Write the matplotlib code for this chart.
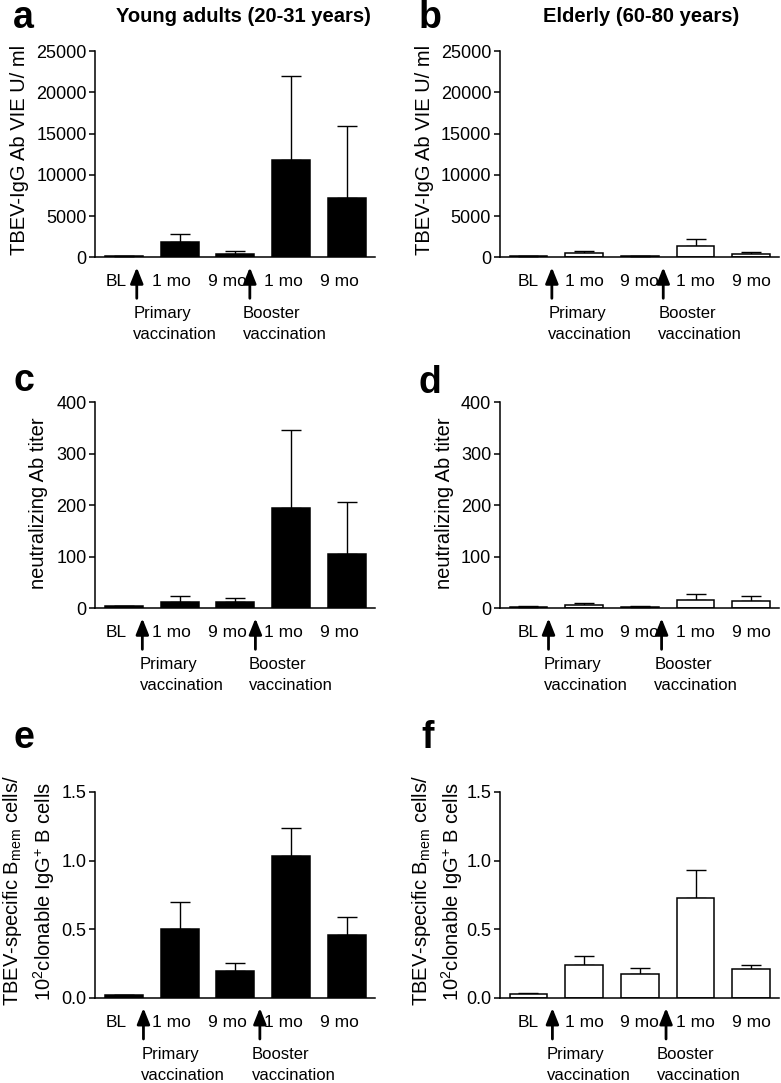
import numpy as np
import matplotlib
matplotlib.use('Agg')
import matplotlib.pyplot as plt
from matplotlib.transforms import blended_transform_factory

plt.rcParams['font.family'] = 'Liberation Sans'
plt.rcParams['mathtext.default'] = 'regular'

# time points (same for every panel)
timepoints = ['BL', '1 mo', '9 mo', '1 mo', '9 mo']

# TBEV-IgG (VIE U/ml), mean and upper error
igg_young = [100, 1800, 400, 11800, 7200]
igg_young_err = [30, 1000, 350, 10200, 8700]
igg_elderly = [100, 550, 100, 1400, 350]
igg_elderly_err = [20, 180, 20, 800, 250]

# neutralizing Ab titer
nt_young = [4, 13, 12, 194, 106]
nt_young_err = [0.5, 11, 8, 153, 100]
nt_elderly = [3, 7, 3, 16, 13.6]
nt_elderly_err = [0.5, 3, 0.5, 11, 11]

# TBEV-specific Bmem cells / 10^2 clonable IgG+ B cells
bmem_young = [0.02, 0.505, 0.195, 1.033, 0.459]
bmem_young_err = [0.005, 0.195, 0.06, 0.207, 0.129]
bmem_elderly = [0.03, 0.238, 0.177, 0.727, 0.211]
bmem_elderly_err = [0.007, 0.071, 0.039, 0.202, 0.032]

igg_label = 'TBEV-IgG Ab VIE U/ ml'
nt_label = 'neutralizing Ab titer'
bmem_label = ['TBEV-specific B$_{mem}$ cells/',
              '10$^{2}$clonable IgG$^{+}$ B cells']

W, H = 781, 1083
fig = plt.figure(figsize=(W / 100, H / 100), dpi=100)

AX_H = 206
AX_W = 279.6
XLIM = (-0.52, 4.5)


def px_rect(left, top, width, height):
    return [left / W, 1 - (top + height) / H, width / W, height / H]


def draw_panel(rect, vals, errs, fc, ymax, yticks, ticklabels,
               arrows, notes, xlab_shift):
    ax = fig.add_axes(px_rect(*rect))
    x = np.arange(len(vals))
    ax.errorbar(x, vals, yerr=[np.zeros(len(vals)), errs], fmt='none',
                ecolor='black', elinewidth=1.0, capsize=7, capthick=1.0,
                zorder=1)
    ax.bar(x, vals, width=0.68, color=fc, edgecolor='black',
           linewidth=1.1, zorder=2)
    ax.set_xlim(*XLIM)
    ax.set_ylim(0, ymax)
    ax.set_yticks(yticks)
    ax.set_yticklabels(ticklabels)
    ax.set_xticks(x + xlab_shift)
    ax.set_xticklabels(timepoints)
    for s in ['top', 'right']:
        ax.spines[s].set_visible(False)
    for s in ['left', 'bottom']:
        ax.spines[s].set_linewidth(1.1)
    ax.tick_params(axis='y', length=4.5, width=1.1, labelsize=13, pad=1.5)
    ax.tick_params(axis='x', length=0, labelsize=12.5, pad=12)

    trans = blended_transform_factory(ax.transData, ax.transAxes)
    for ax_x, tx, txt in zip(arrows, notes,
                             ['Primary\nvaccination', 'Booster\nvaccination']):
        ax.annotate('', xy=(ax_x, -10 / AX_H), xytext=(ax_x, -41 / AX_H),
                    xycoords=trans, textcoords=trans, annotation_clip=False,
                    arrowprops=dict(arrowstyle='-|>,head_length=0.8,head_width=0.32',
                                    color='black', lw=2, shrinkA=0, shrinkB=0,
                                    mutation_scale=12))
        ax.text(tx, -49 / AX_H, txt, transform=trans, ha='left', va='top',
                fontsize=12, linespacing=1.5)
    return ax


LEFT_COL = 95
RIGHT_COL = 499.5
ROWS = [51.3, 402.3, 792]

igg_ticks = [0, 5000, 10000, 15000, 20000, 25000]
nt_ticks = [0, 100, 200, 300, 400]
bmem_ticks = [0, 0.5, 1.0, 1.5]

draw_panel((LEFT_COL, ROWS[0], AX_W, AX_H), igg_young, igg_young_err, 'black',
           25000, igg_ticks, [str(t) for t in igg_ticks],
           [0.23, 2.26], [0.17, 2.13], -0.14)
draw_panel((RIGHT_COL, ROWS[0], AX_W, AX_H), igg_elderly, igg_elderly_err, 'white',
           25000, igg_ticks, [str(t) for t in igg_ticks],
           [0.42, 2.42], [0.355, 2.33], 0.0)
draw_panel((LEFT_COL, ROWS[1], AX_W, AX_H), nt_young, nt_young_err, 'black',
           400, nt_ticks, [str(t) for t in nt_ticks],
           [0.33, 2.36], [0.28, 2.24], -0.14)
draw_panel((RIGHT_COL, ROWS[1], AX_W, AX_H), nt_elderly, nt_elderly_err, 'white',
           400, nt_ticks, [str(t) for t in nt_ticks],
           [0.36, 2.39], [0.28, 2.26], 0.0)
draw_panel((LEFT_COL, ROWS[2], AX_W, AX_H), bmem_young, bmem_young_err, 'black',
           1.5, bmem_ticks, ['%.1f' % t for t in bmem_ticks],
           [0.35, 2.44], [0.31, 2.30], -0.14)
draw_panel((RIGHT_COL, ROWS[2], AX_W, AX_H), bmem_elderly, bmem_elderly_err, 'white',
           1.5, bmem_ticks, ['%.1f' % t for t in bmem_ticks],
           [0.43, 2.47], [0.33, 2.30], 0.0)


def ftext(x, y, s, **kw):
    fig.text(x / W, 1 - y / H, s, **kw)


# y labels
ftext(19.2, 150, igg_label, rotation=90, ha='center', va='center', fontsize=14.5)
ftext(424, 150, igg_label, rotation=90, ha='center', va='center', fontsize=14.5)
ftext(39, 503, nt_label, rotation=90, ha='center', va='center', fontsize=14.5)
ftext(444, 503, nt_label, rotation=90, ha='center', va='center', fontsize=14.5)
ftext(12.5, 891, bmem_label[0], rotation=90, ha='center', va='center', fontsize=14.5)
ftext(44, 891, bmem_label[1], rotation=90, ha='center', va='center', fontsize=14.5)
ftext(421, 891, bmem_label[0], rotation=90, ha='center', va='center', fontsize=14.5)
ftext(452.5, 891, bmem_label[1], rotation=90, ha='center', va='center', fontsize=14.5)

# column titles
ftext(243, 21.7, 'Young adults (20-31 years)', ha='center', va='baseline',
      fontsize=14.5, fontweight='bold')
ftext(640.8, 21.7, 'Elderly (60-80 years)', ha='center', va='baseline',
      fontsize=14.5, fontweight='bold')

# panel letters
for letter, lx, ly in [('a', 12.7, 28.3), ('b', 418.3, 28.3),
                       ('c', 13.3, 391), ('d', 418.3, 393),
                       ('e', 13.3, 748), ('f', 421.7, 748)]:
    ftext(lx, ly, letter, ha='left', va='baseline', fontsize=27,
          fontweight='bold')

fig.savefig('out.png', dpi=100)
